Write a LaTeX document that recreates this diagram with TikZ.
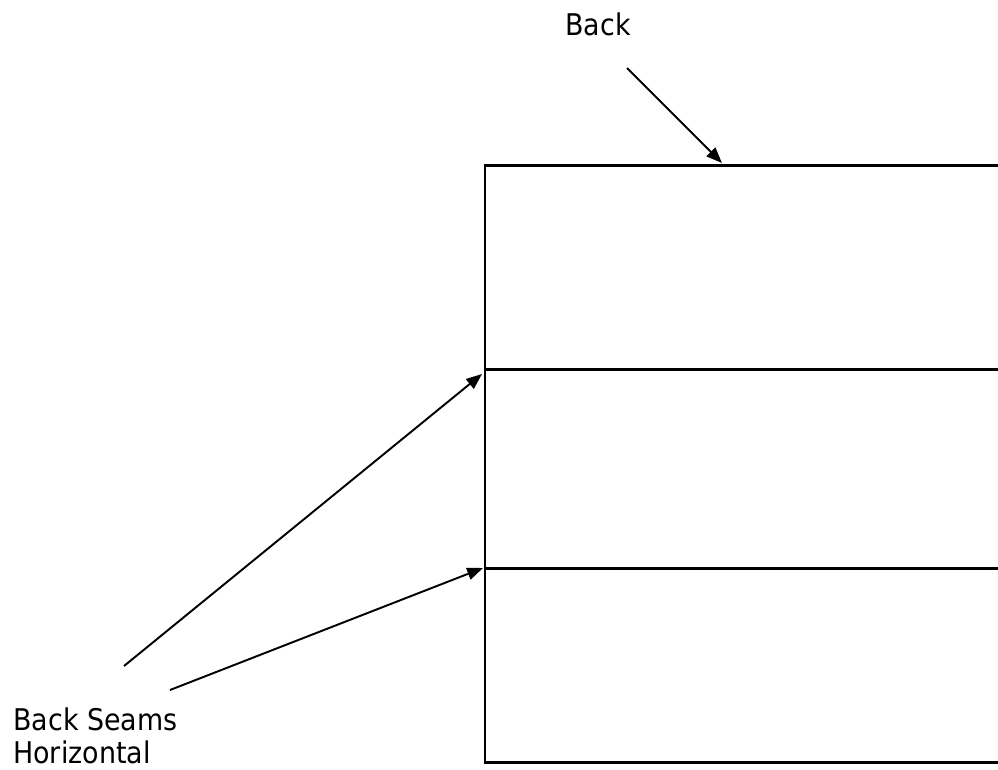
\documentclass[tikz,border=0pt]{standalone}
\usepackage{fontspec}
\setmainfont{DejaVu Sans Condensed}
\usetikzlibrary{arrows.meta}
\begin{document}
\begin{tikzpicture}[x={(0.02cm,0)},y={(0,-0.02cm)},
  panel/.style={line width=1.7pt},
  pointer/.style={line width=1.1pt,-{Triangle[length=9pt,width=7pt]}},
  lbl/.style={font=\fontsize{17pt}{20pt}\selectfont,inner sep=0pt}]
\useasboundingbox (0,0) rectangle (998,769);
% panel corners
\coordinate (tl) at (485,165);
\coordinate (tr) at (999,165);
\coordinate (s1l) at (485,369);
\coordinate (s1r) at (999,369);
\coordinate (s2l) at (485,568);
\coordinate (s2r) at (999,568);
\coordinate (bl) at (485,762);
\coordinate (br) at (999,762);
\draw[panel] (tr) -- (tl) -- (bl) -- (br);
\draw[panel] (s1l) -- (s1r);
\draw[panel] (s2l) -- (s2r);
% labels
\node[lbl,anchor=base west] (back) at (565,35) {Back};
\node[lbl,anchor=base west] (seams) at (13,730) {Back Seams};
\node[lbl,anchor=base west] (horiz) at (13,763) {Horizontal};
% arrow tails and tips
\coordinate (backtail) at (627,68);
\coordinate (backtip) at (722,163);
\coordinate (a1tail) at (124,666);
\coordinate (a1tip) at (482,374);
\coordinate (a2tail) at (170,690);
\coordinate (a2tip) at (483,568);
\draw[pointer] (backtail) -- (backtip);
\draw[pointer] (a1tail) -- (a1tip);
\draw[pointer] (a2tail) -- (a2tip);
\end{tikzpicture}
\end{document}
